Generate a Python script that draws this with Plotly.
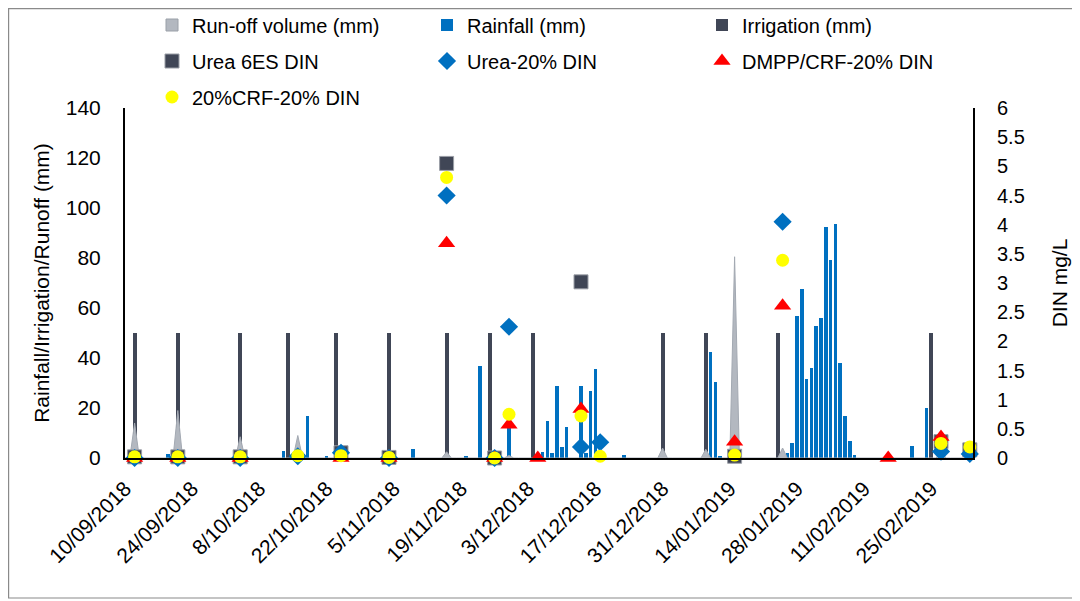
import plotly.graph_objects as go
import pandas as pd

# ---------------- data ----------------
rain_dates = ["2018-09-19", "2018-10-13", "2018-10-18", "2018-10-22", "2018-11-09",
              "2018-11-20", "2018-11-23", "2018-11-29", "2018-12-06", "2018-12-07",
              "2018-12-08", "2018-12-09", "2018-12-10", "2018-12-11", "2018-12-14",
              "2018-12-15", "2018-12-16", "2018-12-17", "2018-12-23", "2019-01-10",
              "2019-01-11", "2019-01-12", "2019-01-24", "2019-01-26", "2019-01-27",
              "2019-01-28", "2019-01-29", "2019-01-30", "2019-01-31", "2019-02-01",
              "2019-02-02", "2019-02-03", "2019-02-04", "2019-02-05", "2019-02-06",
              "2019-02-07", "2019-02-08", "2019-02-09", "2019-02-21", "2019-02-24"]
rain_mm = [1.5, 3, 17, 1, 3.5,
           1, 37, 12, 2.5, 15,
           2, 29, 4.5, 12.5, 29,
           2, 27, 35.5, 1.2, 42.5,
           30.5, 1, 1, 2, 6,
           56.8, 67.5, 31.5, 35.9, 53,
           55.9, 92.5, 79.2, 93.5, 37.9,
           16.8, 7, 1.2, 5, 20]

irr_dates = ["2018-09-12", "2018-09-21", "2018-10-04", "2018-10-14", "2018-10-24",
             "2018-11-04", "2018-11-16", "2018-11-25", "2018-12-04", "2018-12-31",
             "2019-01-09", "2019-01-24", "2019-02-25"]
irr_mm = [50, 50, 50, 50, 50, 50, 50, 50, 50, 50, 50, 50, 50]

runoff_dates = ["2018-09-12", "2018-09-21", "2018-10-04", "2018-10-16", "2018-11-16",
                "2018-11-29", "2018-12-31", "2019-01-09", "2019-01-15", "2019-01-25",
                "2019-02-27"]
runoff_mm = [14, 19, 8.5, 9, 2.5, 1, 4, 3.5, 80.5, 4, 3]

sample_dates = ["2018-09-12", "2018-09-21", "2018-10-04", "2018-10-16", "2018-10-25",
                "2018-11-04", "2018-11-16", "2018-11-26", "2018-11-29", "2018-12-05",
                "2018-12-14", "2018-12-18", "2019-01-15", "2019-01-25", "2019-02-16",
                "2019-02-27", "2019-03-05"]
urea_6es = [0.02, 0.02, 0.02, None, 0.09, 0.01, 5.05, 0.0, None, None,
            3.02, None, 0.03, None, None, 0.28, 0.14]
urea_20 = [0.0, 0.0, 0.0, 0.03, 0.09, 0.0, 4.50, 0.0, 2.25, None,
           0.19, 0.27, None, 4.05, None, 0.11, 0.07]
dmpp_crf_20 = [0.0, 0.0, 0.0, None, 0.0, 0.0, 3.68, 0.0, 0.57, 0.0,
               0.84, None, 0.28, 2.61, 0.0, 0.36, None]
crf_20 = [0.02, 0.02, 0.02, 0.04, 0.04, 0.01, 4.81, 0.0, 0.75, None,
          0.72, 0.03, 0.05, 3.39, None, 0.25, 0.19]

x_range = ["2018-09-10", "2019-03-05 16:00"]

# daily run-off series (zero on days without run-off, as in a date-axis area chart)
days = pd.date_range("2018-09-09", "2019-03-06", freq="D")
runoff_daily = pd.Series(0.0, index=days)
for d, v in zip(runoff_dates, runoff_mm):
    runoff_daily[pd.Timestamp(d)] = v

FONT = "Liberation Sans, Arial, sans-serif"
DAY_MS = 86400000
RUNOFF_FILL = "#b3b8c0"

# figure-space layout (the page body adds an 8 px offset)
W, H = 1080, 601
L, R, T, B = 117, 115, 100, 151
PW, PH = W - L - R, H - T - B

fig = go.Figure()

fig.add_trace(go.Scatter(
    x=runoff_daily.index, y=runoff_daily.values, name="Run-off volume (mm)",
    mode="lines", fill="tozeroy", fillcolor=RUNOFF_FILL,
    line=dict(color="#a3a9b2", width=1), showlegend=False))

# legend proxy for the run-off area (square swatch as in the original legend)
fig.add_trace(go.Bar(
    x=[None], y=[None], name="Run-off volume (mm)",
    marker=dict(color=RUNOFF_FILL, line=dict(color="#9aa0a8", width=1)),
    legend="legend"))

fig.add_trace(go.Bar(
    x=rain_dates, y=rain_mm, name="Rainfall (mm)", width=0.75 * DAY_MS,
    marker=dict(color="#0070c0", line=dict(width=0)), legend="legend"))

fig.add_trace(go.Bar(
    x=irr_dates, y=irr_mm, name="Irrigation (mm)", width=0.8 * DAY_MS,
    marker=dict(color="#404656", line=dict(width=0)), legend="legend"))

fig.add_trace(go.Scatter(
    x=sample_dates, y=urea_6es, name="Urea 6ES DIN", yaxis="y2", mode="markers",
    cliponaxis=False,
    marker=dict(symbol="square", size=14, color="#404656",
                line=dict(color="#9a9ea6", width=1)), legend="legend2"))

fig.add_trace(go.Scatter(
    x=sample_dates, y=urea_20, name="Urea-20% DIN", yaxis="y2", mode="markers",
    cliponaxis=False,
    marker=dict(symbol="diamond", size=14, color="#0070c0", line=dict(width=0)),
    legend="legend2"))

fig.add_trace(go.Scatter(
    x=sample_dates, y=dmpp_crf_20, name="DMPP/CRF-20% DIN", yaxis="y2", mode="markers",
    cliponaxis=False,
    marker=dict(symbol="triangle-up", size=15, color="#ff0000", line=dict(width=0)),
    legend="legend2"))

fig.add_trace(go.Scatter(
    x=sample_dates, y=crf_20, name="20%CRF-20% DIN", yaxis="y2", mode="markers",
    cliponaxis=False,
    marker=dict(symbol="circle", size=13, color="#ffff00", line=dict(width=0)),
    legend="legend3"))

legend_common = dict(orientation="h", xref="container", yref="container",
                     xanchor="left", yanchor="middle", x=144 / W,
                     entrywidth=230, entrywidthmode="pixels",
                     font=dict(family=FONT, size=20, color="#000000"),
                     bgcolor="rgba(0,0,0,0)", itemclick=False)

fig.update_layout(
    width=W, height=H,
    margin=dict(l=L, r=R, t=T, b=B, autoexpand=False),
    paper_bgcolor="white", plot_bgcolor="white",
    barmode="overlay", bargap=0,
    font=dict(family=FONT, color="#000000"),
    legend=dict(**legend_common, y=1 - 17 / H),
    legend2=dict(**legend_common, y=1 - 53 / H),
    legend3=dict(**legend_common, y=1 - 89 / H),
    xaxis=dict(type="date", range=x_range, tick0="2018-09-10", dtick=14 * DAY_MS,
               tickformat="%-d/%m/%Y", tickangle=-45, showgrid=False, zeroline=False,
               showline=True, linecolor="#000000", linewidth=2,
               ticks="outside", ticklen=8, tickcolor="rgba(0,0,0,0)",
               tickfont=dict(family=FONT, size=21, color="#000000")),
    yaxis=dict(range=[0, 140], dtick=20, showgrid=False, zeroline=False,
               showline=True, linecolor="#000000", linewidth=2,
               ticks="outside", ticklen=18, tickcolor="rgba(0,0,0,0)",
               tickfont=dict(family=FONT, size=21, color="#000000"),
               title=dict(text="Rainfall/Irrigation/Runoff (mm)",
                          font=dict(family=FONT, size=21, color="#000000"),
                          standoff=10)),
    yaxis2=dict(range=[0, 6], dtick=0.5, overlaying="y", side="right",
                showgrid=False, zeroline=False,
                showline=True, linecolor="#000000", linewidth=2,
                ticks="outside", ticklen=18, tickcolor="rgba(0,0,0,0)",
                tickfont=dict(family=FONT, size=20, color="#000000"),
                title=dict(text="DIN mg/L",
                           font=dict(family=FONT, size=21, color="#000000"),
                           standoff=28)),
    shapes=[dict(type="rect", xref="paper", yref="paper",
                 x0=(0.6 - L) / PW, x1=(1069 - L) / PW,
                 y0=(T + PH - 590) / PH, y1=(T + PH - 0.6) / PH,
                 line=dict(color="#8a8a8a", width=1.2), fillcolor="rgba(0,0,0,0)",
                 layer="below")],
)

fig.write_html("out.html")
